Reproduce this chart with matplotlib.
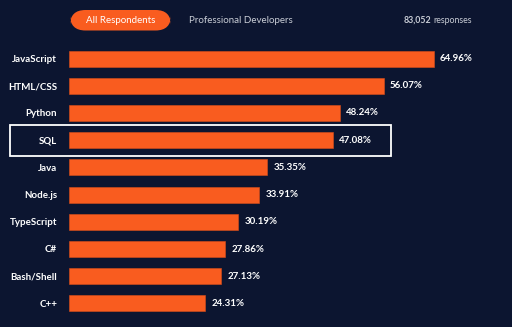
import matplotlib.pyplot as plt
from matplotlib.patches import Rectangle, FancyBboxPatch

languages = ['JavaScript', 'HTML/CSS', 'Python', 'SQL', 'Java', 'Node.js',
             'TypeScript', 'C#', 'Bash/Shell', 'C++']
shares = [64.96, 56.07, 48.24, 47.08, 35.35, 33.91, 30.19, 27.86, 27.13, 24.31]
highlight = 'SQL'

bg = '#0C1530'
orange = '#F95C1F'

plt.rcParams['font.family'] = ['Lato', 'DejaVu Sans']

W, H = 512, 327
fig = plt.figure(figsize=(W / 100, H / 100), dpi=100, facecolor=bg)

# axes area in pixel terms
left, right, top, bottom = 69, 512, 45, 317
ax = fig.add_axes([left / W, 1 - bottom / H, (right - left) / W, (bottom - top) / H])
ax.set_facecolor(bg)

ypos = range(len(languages))
ax.barh(ypos, shares, height=0.59, color=orange, edgecolor='#D94E1A', linewidth=0.4)
ax.set_xlim(0, (right - left) / 5.614)
ax.set_ylim(len(languages) - 0.5, -0.5)

ax.set_yticks(list(ypos))
ax.set_yticklabels(languages, color='white', fontsize=7, fontweight='bold')
ax.tick_params(axis='y', length=0, pad=8.5)
ax.set_xticks([])
for s in ax.spines.values():
    s.set_visible(False)

for i, v in enumerate(shares):
    ax.annotate(f'{v:.2f}%', (v, i), xytext=(4.2, 0), textcoords='offset points',
                va='center', ha='left', color='white', fontsize=7, fontweight='bold')

# box around the highlighted row
hi = languages.index(highlight)
fig.add_artist(Rectangle((9.5 / W, 1 - 156 / H), (390.5 - 9.5) / W, (156 - 124.5) / H,
                         transform=fig.transFigure, fill=False, edgecolor='white', linewidth=1.3))

# header: toggle pill and response count
fig.add_artist(FancyBboxPatch((70 / W, 1 - 30.5 / H), 101 / W, 20.5 / H,
                              boxstyle='round,pad=0,rounding_size=0.03',
                              transform=fig.transFigure, facecolor=orange, edgecolor='none',
                              mutation_aspect=W / H))
fig.text(120.5 / W, 1 - 20.5 / H, 'All Respondents', color='white', fontsize=7,
         ha='center', va='center')
fig.text(189 / W, 1 - 20.5 / H, 'Professional Developers', color='#C9CDD6', fontsize=7,
         ha='left', va='center')
fig.text(431 / W, 1 - 20.5 / H, '83,052', color='#C9CDD6', fontsize=6.3, fontweight='bold',
         ha='right', va='center')
fig.text(433 / W, 1 - 20.5 / H, 'responses', color='#C9CDD6', fontsize=6.3,
         ha='left', va='center')

fig.savefig('out.png', dpi=100, facecolor=bg)
